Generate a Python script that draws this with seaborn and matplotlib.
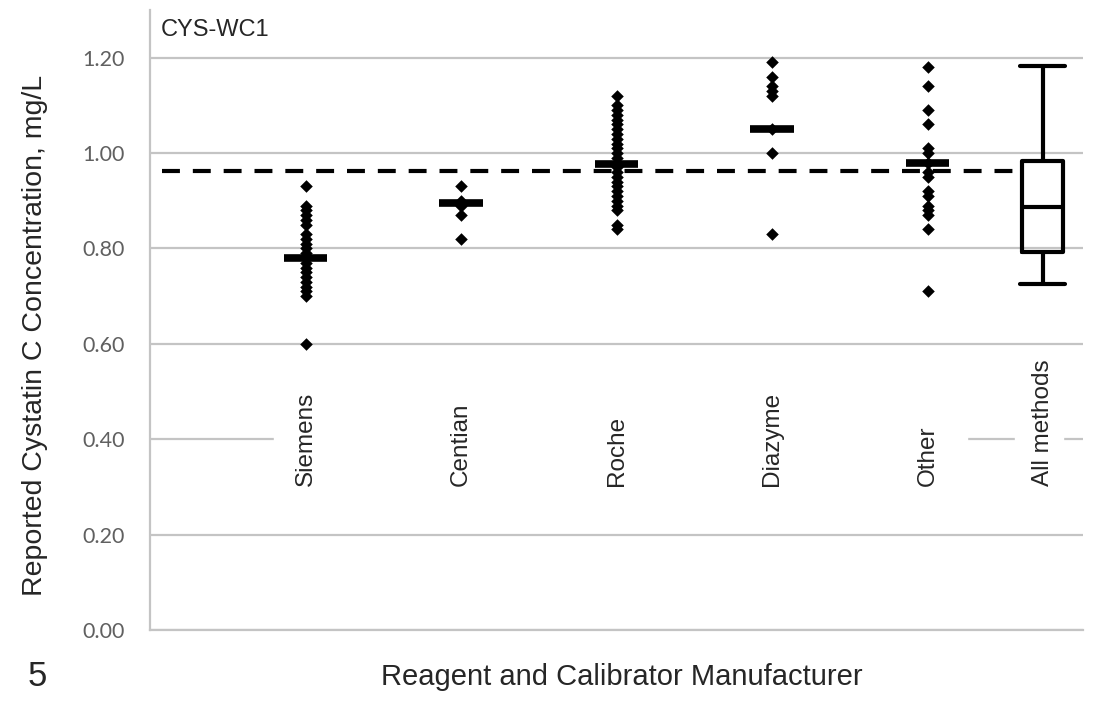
import numpy as np
import pandas as pd
import matplotlib.pyplot as plt
import seaborn as sns
from matplotlib.patches import Rectangle

# values (mg/L)
groups = ['Siemens', 'Centian', 'Roche', 'Diazyme', 'Other']
siemens = [0.93, 0.89, 0.88, 0.87, 0.86, 0.85, 0.83, 0.82, 0.81, 0.80, 0.79,
           0.78, 0.77, 0.76, 0.75, 0.74, 0.73, 0.72, 0.71, 0.70, 0.60]
centian = [0.93, 0.90, 0.89, 0.87, 0.82]
roche = [1.12, 1.10, 1.09, 1.08, 1.07, 1.06, 1.05, 1.04, 1.03, 1.02, 1.01, 1.00,
         0.99, 0.98, 0.97, 0.96, 0.95, 0.94, 0.93, 0.92, 0.91, 0.90, 0.89, 0.88,
         0.85, 0.84]
diazyme = [1.19, 1.16, 1.14, 1.13, 1.12, 1.05, 1.00, 0.83]
other = [1.18, 1.14, 1.09, 1.06, 1.01, 1.00, 0.98, 0.96, 0.95, 0.92, 0.91, 0.89,
         0.88, 0.87, 0.84, 0.71]
group_medians = [0.78, 0.895, 0.977, 1.05, 0.98]
target_value = 0.962

all_label = 'All methods'
all_box = {'whislo': 0.726, 'q1': 0.793, 'med': 0.887, 'q3': 0.983, 'whishi': 1.183}
yticks = [0.0, 0.2, 0.4, 0.6, 0.8, 1.0, 1.2]

df = pd.DataFrame({
    'group': np.repeat(groups, [len(siemens), len(centian), len(roche), len(diazyme), len(other)]),
    'value': siemens + centian + roche + diazyme + other,
})

sns.set_style('white')
fig = plt.figure(figsize=(10.96, 7.09), dpi=100)
ax = fig.add_axes([0.1369, 0.1114, 0.8513, 0.8745])

sns.stripplot(data=df, x='group', y='value', order=groups, jitter=False,
              marker='D', size=6.4, color='black', linewidth=0, ax=ax, zorder=3)

pos = np.arange(len(groups))
ax.hlines(group_medians, pos - 0.14, pos + 0.14, colors='black', lw=5.5, zorder=4)

box_pos = 4.74
ax.bxp([dict(all_box, fliers=[], label=all_label)], positions=[box_pos], widths=0.26,
       capwidths=0.29, showfliers=False, manage_ticks=False,
       boxprops=dict(color='black', lw=3), whiskerprops=dict(color='black', lw=3),
       capprops=dict(color='black', lw=3), medianprops=dict(color='black', lw=3),
       zorder=4)

ax.hlines(target_value, -0.92, box_pos - 0.13, colors='black', lw=3,
          linestyles=(0, (4.3, 3.1)), zorder=2)

ax.set_xlim(-1, 5)
ax.set_ylim(0, 1.3)
ax.set_xticks([])
ax.set_xlabel('')
ax.set_ylabel('')
ax.set_yticks(yticks)
ax.set_yticklabels([f'{t:.2f}' for t in yticks], family='Lato', fontsize=15.5, color='#606060')
ax.yaxis.grid(True, color='#c4c4c4', lw=1.6)
ax.set_axisbelow(True)
ax.tick_params(axis='y', length=6, width=1.6, color='#c4c4c4', pad=12)
for side in ['top', 'right']:
    ax.spines[side].set_visible(False)
for side in ['left', 'bottom']:
    ax.spines[side].set_color('#c4c4c4')
    ax.spines[side].set_linewidth(1.6)

# white blocks behind the category names break the 0.40 grid line
ax.add_patch(Rectangle((-0.205, 0.38), 4.46, 0.04, color='white', zorder=1))
ax.add_patch(Rectangle((4.56, 0.38), 0.31, 0.04, color='white', zorder=1))

for p, name in zip(list(pos) + [box_pos], groups + [all_label]):
    ax.text(p, 0.303, name, rotation=90, ha='center', va='bottom',
            family='Liberation Sans', fontsize=17.5, zorder=5)

ax.text(0.012, 0.985, 'CYS-WC1', transform=ax.transAxes, ha='left', va='top',
        family='Liberation Sans', fontsize=17)

fig.text(35 / 1096, 1 - 335 / 709, 'Reported Cystatin C Concentration, mg/L',
         rotation=90, ha='center', va='center', family='Liberation Sans', fontsize=20.5)
fig.text(622 / 1096, 1 - 677 / 709, 'Reagent and Calibrator Manufacturer',
         ha='center', va='center', family='Liberation Sans', fontsize=21)
fig.text(37 / 1096, 1 - 677 / 709, '5', ha='center', va='center',
         family='Liberation Sans', fontsize=25)

fig.savefig('out.png', dpi=100)
